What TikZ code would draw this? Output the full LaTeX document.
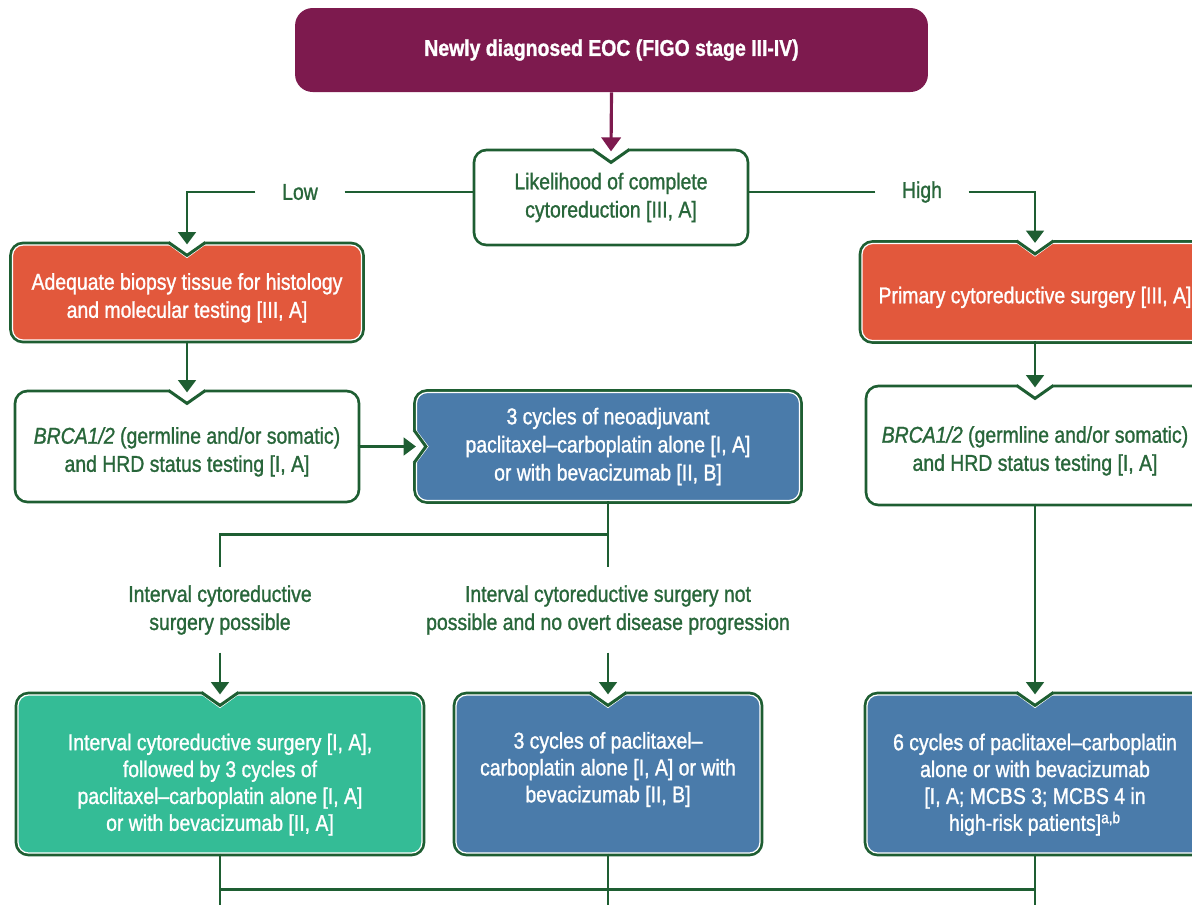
\documentclass[tikz,border=0pt]{standalone}
\usepackage{fontspec}
\setmainfont{Liberation Sans}[FakeStretch=0.85, FakeBold=1.2]
\usetikzlibrary{arrows.meta,calc}

\definecolor{eocplum}{RGB}{125,26,78}
\definecolor{dkgreen}{RGB}{30,94,50}
\definecolor{txtgreen}{RGB}{40,102,58}
\definecolor{surgred}{RGB}{226,88,60}
\definecolor{chemoblue}{RGB}{74,123,170}
\definecolor{intgreen}{RGB}{52,188,150}

\newcommand{\topnotch}[1]{%
  \fill[white] ($(#1.north)+(-18,-5)$) -- ($(#1.north)+(18,-5)$) -- ($(#1.north)+(18,0)$)
    -- ($(#1.north)+(0,13)$) -- ($(#1.north)+(-18,0)$) -- cycle;
  \draw[white, line width=0.7pt] ($(#1.north)+(-18,0)$) -- ($(#1.north)+(0,13)$) -- ($(#1.north)+(18,0)$);
  \draw[dkgreen, line width=1.7pt] ($(#1.north)+(-18.5,-2)$) -- ($(#1.north)+(0,11)$) -- ($(#1.north)+(18.5,-2)$);}
\newcommand{\leftnotch}[1]{%
  \fill[white] ($(#1.west)+(-5,-16)$) -- ($(#1.west)+(0,-16)$) -- ($(#1.west)+(12,0)$)
    -- ($(#1.west)+(0,16)$) -- ($(#1.west)+(-5,16)$) -- cycle;
  \draw[white, line width=0.7pt] ($(#1.west)+(0,-16)$) -- ($(#1.west)+(12,0)$) -- ($(#1.west)+(0,16)$);
  \draw[dkgreen, line width=1.7pt] ($(#1.west)+(-2,-16.5)$) -- ($(#1.west)+(10,0)$) -- ($(#1.west)+(-2,16.5)$);}
\newcommand{\padtop}[1]{\mbox{}\\[#1]}
\newcommand{\padbot}[1]{\\[#1]\mbox{}}

\begin{document}
\begin{tikzpicture}[
    x=0.02cm, y=-0.02cm,
    font=\fontsize{13}{16}\selectfont,
    line/.style={draw=dkgreen, line width=1.6pt},
    arrow/.style={line, -{Triangle[width=10pt,length=7pt]}},
    box/.style={rounded corners=6pt, align=center, inner sep=3pt,
        preaction={draw=dkgreen, line width=3.8pt}, draw=white, line width=0.7pt},
    plain/.style={box, fill=white, text=txtgreen},
    surg/.style={box, fill=surgred, text=white},
    chemo/.style={box, fill=chemoblue, text=white},
    interval/.style={box, fill=intgreen, text=white},
    lower/.style={font=\fontsize{13}{15.3}\selectfont, minimum height=3.16cm},
    branch/.style={text=txtgreen, align=center, inner xsep=15pt, inner ysep=10pt}
]
\useasboundingbox (0,0) rectangle (1192,904);
\clip (0,0) rectangle (1192,904);

\node[fill=eocplum, rounded corners=10pt, minimum width=12.66cm, minimum height=1.68cm,
    text=white, font=\fontsize{13}{16}\selectfont\bfseries] (eoc) at (611.5,50)
{Newly diagnosed EOC (FIGO stage III-IV)};

\node[plain, minimum width=5.4cm, minimum height=1.82cm] (lik) at (611,197.5)
{Likelihood of complete\\cytoreduction [III, A]};

\node[branch] (low) at (300,192) {Low};
\node[branch] (high) at (922,192) {High};

\node[surg, minimum width=6.98cm, minimum height=1.9cm] (adq) at (187,292.5)
{\padtop{-0.5pt}Adequate biopsy tissue for histology\\and molecular testing [III, A]};

\node[surg, minimum width=6.92cm, minimum height=1.94cm] (prim) at (1035,292)
{\padtop{-0.5pt}Primary cytoreductive surgery [III, A]};

\node[plain, minimum width=6.8cm, minimum height=2.14cm] (brcal) at (187,446.5)
{\padtop{-0.5pt}\textit{BRCA1/2} (germline and/or somatic)\\and HRD status testing [I, A]};

\node[chemo, minimum width=7.66cm, minimum height=2.16cm] (neo) at (608,446.5)
{3 cycles of neoadjuvant\\paclitaxel--carboplatin alone [I, A]\\or with bevacizumab [II, B]};

\node[plain, minimum width=6.68cm, minimum height=2.3cm] (brcar) at (1035,445.5)
{\padtop{-0.5pt}\textit{BRCA1/2} (germline and/or somatic)\\and HRD status testing [I, A]};

\node[branch] (lab1) at (220,610)
{Interval cytoreductive\\surgery possible};
\node[branch] (lab2) at (608,610)
{Interval cytoreductive surgery not\\possible and no overt disease progression};

\node[interval, lower, minimum width=8.08cm] (intv) at (220,774)
{\padtop{6.2pt}Interval cytoreductive surgery [I, A],\\followed by 3 cycles of\\paclitaxel--carboplatin alone [I, A]\\or with bevacizumab [II, A]};

\node[chemo, lower, minimum width=6.08cm] (cyc3) at (608,774)
{3 cycles of paclitaxel--\\carboplatin alone [I, A] or with\\bevacizumab [II, B]\padbot{-7.5pt}};

\node[chemo, lower, minimum width=6.72cm] (cyc6) at (1035,774)
{\padtop{6.2pt}6 cycles of paclitaxel--carboplatin\\alone or with bevacizumab\\{}[I, A; MCBS 3; MCBS 4 in\\high-risk patients]\textsuperscript{a,b}};

\topnotch{lik}
\topnotch{adq}
\topnotch{prim}
\topnotch{brcal}
\topnotch{brcar}
\topnotch{intv}
\topnotch{cyc3}
\topnotch{cyc6}
\leftnotch{neo}

\draw[line width=1.8pt, draw=eocplum, -{Triangle[width=11pt,length=8pt]}, eocplum] (eoc.south) -- (lik.north);

\draw[line] (low.east) -- (low.east -| lik.west);
\draw[arrow] (low.west) -| (adq.north);
\draw[line] (high.west) -- (high.west -| lik.east);
\draw[arrow] (high.east) -| (prim.north);

\draw[arrow] (adq.south) -- (brcal.north);
\draw[arrow] (prim.south) -- (brcar.north);
\draw[arrow] (brcal.east) -- (brcal.east -| neo.west);
\draw[arrow] (brcar.south) -- (cyc6.north);

\coordinate (split) at ($(neo.south)+(0,33)$);
\draw[line] (neo.south) -- (lab2.north);
\draw[line] (split) -| (lab1.north);
\draw[arrow] (lab1.south) -- (intv.north);
\draw[arrow] (lab2.south) -- (cyc3.north);

\coordinate (merge) at ($(intv.south)+(0,36)$);
\draw[line] (intv.south) -- ++(0,70);
\draw[line] (cyc3.south) -- ++(0,70);
\draw[line] (cyc6.south) -- ++(0,70);
\draw[line] (merge) -- (merge -| cyc6.south);

\end{tikzpicture}
\end{document}
